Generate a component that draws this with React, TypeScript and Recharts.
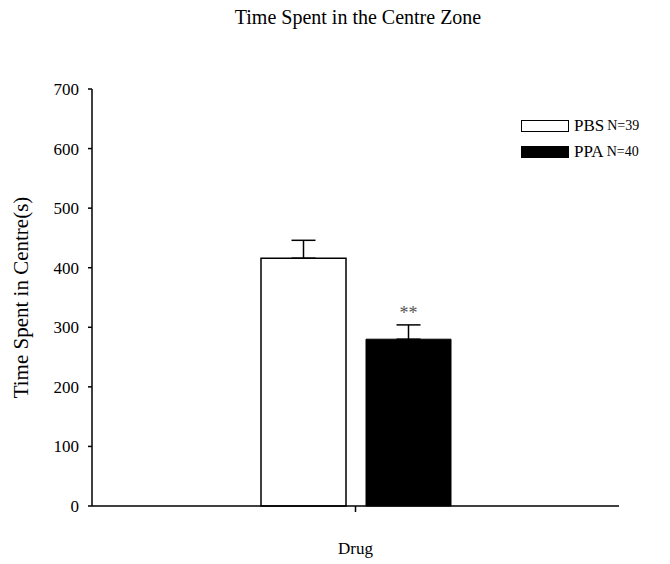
import React from 'react';
import { BarChart, Bar, XAxis, YAxis, ErrorBar, LabelList, Label } from 'recharts';

const categories = ['Drug'];
const seriesNames = ['PBS', 'PPA'];
const seriesN = ['N=39', 'N=40'];
const pbsMeans = [416];
const ppaMeans = [280];
const pbsErr = [30];
const ppaErr = [24];
const ppaSig = ['**'];
const yTicks = [0, 100, 200, 300, 400, 500, 600, 700];
const titleText = 'Time Spent in the Centre Zone';
const yLabel = 'Time Spent in Centre(s)';
const xLabel = 'Drug';

const data = categories.map((c, i) => ({
  group: c,
  PBS: pbsMeans[i],
  PPA: ppaMeans[i],
  PBSerr: [0, pbsErr[i]],
  PPAerr: [0, ppaErr[i]],
  sig: ppaSig[i],
}));

const FONT = '"Liberation Serif", "Times New Roman", serif';
const fills = ['#ffffff', '#000000'];

const LegendBlock = () => (
  <div style={{ position: 'absolute', left: 513, top: 105, fontFamily: FONT, color: '#000' }}>
    {seriesNames.map((name, i) => (
      <div key={name} style={{ display: 'flex', alignItems: 'center', height: 26, whiteSpace: 'nowrap' }}>
        <div
          style={{
            width: 46,
            height: 10,
            background: fills[i],
            border: '1.5px solid #000',
            marginRight: 5,
          }}
        />
        <span style={{ fontSize: 17 }}>{name}</span>
        <span style={{ fontSize: 14, marginLeft: 3 }}>{seriesN[i]}</span>
      </div>
    ))}
  </div>
);

export default function App() {
  return (
    <div style={{ position: 'relative', width: 662, height: 556 }}>
      <div
        style={{
          position: 'absolute',
          top: -2,
          left: 0,
          width: 700,
          textAlign: 'center',
          fontFamily: FONT,
          fontSize: 20,
          color: '#000',
        }}
      >
        {titleText}
      </div>
      <BarChart
        width={662}
        height={556}
        data={data}
        margin={{ top: 81, right: 51, bottom: 18, left: 24 }}
        barSize={85}
        barGap={20}
      >
        <XAxis
          dataKey="group"
          tick={() => <g />}
          tickSize={6}
          height={40}
          axisLine={{ stroke: '#000', strokeWidth: 1.5 }}
          tickLine={{ stroke: '#000', strokeWidth: 1.5 }}
        >
          <Label value={xLabel} position="insideBottom" offset={-8} style={{ fontFamily: FONT, fontSize: 17, fill: '#000' }} />
        </XAxis>
        <YAxis
          domain={[0, 700]}
          ticks={yTicks}
          width={60}
          tickSize={4}
          tickMargin={9}
          tick={{ fontFamily: FONT, fontSize: 17, fill: '#000' }}
          axisLine={{ stroke: '#000', strokeWidth: 1.5 }}
          tickLine={{ stroke: '#000', strokeWidth: 1.5 }}
        >
          <Label
            value={yLabel}
            angle={-90}
            position="insideLeft"
            offset={-11}
            style={{ fontFamily: FONT, fontSize: 21, fill: '#000', textAnchor: 'middle' }}
          />
        </YAxis>
        <Bar dataKey="PBS" name={seriesNames[0]} fill={fills[0]} stroke="#000" strokeWidth={1.5} isAnimationActive={false}>
          <ErrorBar dataKey="PBSerr" direction="y" width={12} stroke="#000" strokeWidth={1.5} />
        </Bar>
        <Bar dataKey="PPA" name={seriesNames[1]} fill={fills[1]} stroke="#000" strokeWidth={1} isAnimationActive={false}>
          <ErrorBar dataKey="PPAerr" direction="y" width={12} stroke="#000" strokeWidth={1.5} />
          <LabelList dataKey="sig" position="top" offset={20} style={{ fontFamily: FONT, fontSize: 18, fill: '#555' }} />
        </Bar>
      </BarChart>
      <LegendBlock />
    </div>
  );
}
